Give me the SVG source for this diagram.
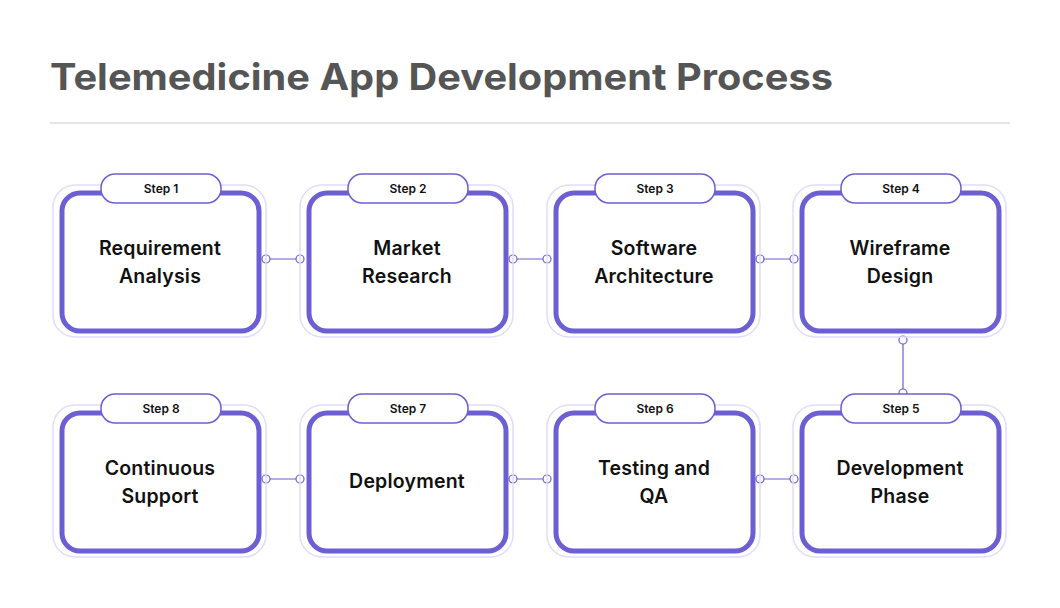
<svg xmlns="http://www.w3.org/2000/svg" width="1060" height="608" viewBox="0 0 1060 608">
<style>
.ring{fill:none;stroke:#e0dcfb;stroke-width:1.5}
.box{fill:#fff;stroke:#6c5fd3;stroke-width:5}
.pill{fill:#fff;stroke:#6c5fd3;stroke-width:1.5}
.st{font-family:Inter,"Liberation Sans",sans-serif;font-size:12px;font-weight:600;fill:#111;text-anchor:middle}
.lb{font-family:Inter,"Liberation Sans",sans-serif;font-size:19.5px;font-weight:600;fill:#111;text-anchor:middle;letter-spacing:0.2px}
.ln{stroke:#6c5fd3;stroke-width:1.2;fill:none}
.dot{fill:#fff;stroke:#6c5fd3;stroke-width:1.2}
</style>
<rect width="1060" height="608" fill="#fff"/>
<text x="50" y="90" font-family="Inter,'Liberation Sans',sans-serif" font-size="37" font-weight="700" fill="#555" textLength="783" lengthAdjust="spacingAndGlyphs">Telemedicine App Development Process</text>
<line x1="50" y1="123" x2="1010" y2="123" stroke="#ddd" stroke-width="1.5"/>
<defs>
<g id="card">
<rect class="ring" x="-107" y="-74" width="213" height="152" rx="22"/>
<rect class="box" x="-98" y="-66" width="197" height="138" rx="18"/>
<rect class="pill" x="-59" y="-85" width="120" height="29" rx="14"/>
</g>
</defs>
<g id="connectors">
<line class="ln" x1="266" y1="259" x2="300" y2="259"/><circle class="dot" cx="266" cy="259" r="4"/><circle class="dot" cx="300" cy="259" r="4"/>
<line class="ln" x1="513" y1="259" x2="547" y2="259"/><circle class="dot" cx="513" cy="259" r="4"/><circle class="dot" cx="547" cy="259" r="4"/>
<line class="ln" x1="760" y1="259" x2="794" y2="259"/><circle class="dot" cx="760" cy="259" r="4"/><circle class="dot" cx="794" cy="259" r="4"/>
<line class="ln" x1="266" y1="479" x2="300" y2="479"/><circle class="dot" cx="266" cy="479" r="4"/><circle class="dot" cx="300" cy="479" r="4"/>
<line class="ln" x1="513" y1="479" x2="547" y2="479"/><circle class="dot" cx="513" cy="479" r="4"/><circle class="dot" cx="547" cy="479" r="4"/>
<line class="ln" x1="760" y1="479" x2="794" y2="479"/><circle class="dot" cx="760" cy="479" r="4"/><circle class="dot" cx="794" cy="479" r="4"/>
<line class="ln" x1="903" y1="340" x2="903" y2="393"/><circle class="dot" cx="903" cy="340" r="4"/><circle class="dot" cx="903" cy="393" r="4"/>
</g>
<g id="s1" transform="translate(160,259)"><use href="#card"/><text class="st" x="1" y="-66">Step 1</text><text class="lb" y="-4">Requirement</text><text class="lb" y="24">Analysis</text></g>
<g id="s2" transform="translate(407,259)"><use href="#card"/><text class="st" x="1" y="-66">Step 2</text><text class="lb" y="-4">Market</text><text class="lb" y="24">Research</text></g>
<g id="s3" transform="translate(654,259)"><use href="#card"/><text class="st" x="1" y="-66">Step 3</text><text class="lb" y="-4">Software</text><text class="lb" y="24">Architecture</text></g>
<g id="s4" transform="translate(900,259)"><use href="#card"/><text class="st" x="1" y="-66">Step 4</text><text class="lb" y="-4">Wireframe</text><text class="lb" y="24">Design</text></g>
<g id="s5" transform="translate(900,479)"><use href="#card"/><text class="st" x="1" y="-66">Step 5</text><text class="lb" y="-4">Development</text><text class="lb" y="24">Phase</text></g>
<g id="s6" transform="translate(654,479)"><use href="#card"/><text class="st" x="1" y="-66">Step 6</text><text class="lb" y="-4">Testing and</text><text class="lb" y="24">QA</text></g>
<g id="s7" transform="translate(407,479)"><use href="#card"/><text class="st" x="1" y="-66">Step 7</text><text class="lb" y="9">Deployment</text></g>
<g id="s8" transform="translate(160,479)"><use href="#card"/><text class="st" x="1" y="-66">Step 8</text><text class="lb" y="-4">Continuous</text><text class="lb" y="24">Support</text></g>
</svg>
